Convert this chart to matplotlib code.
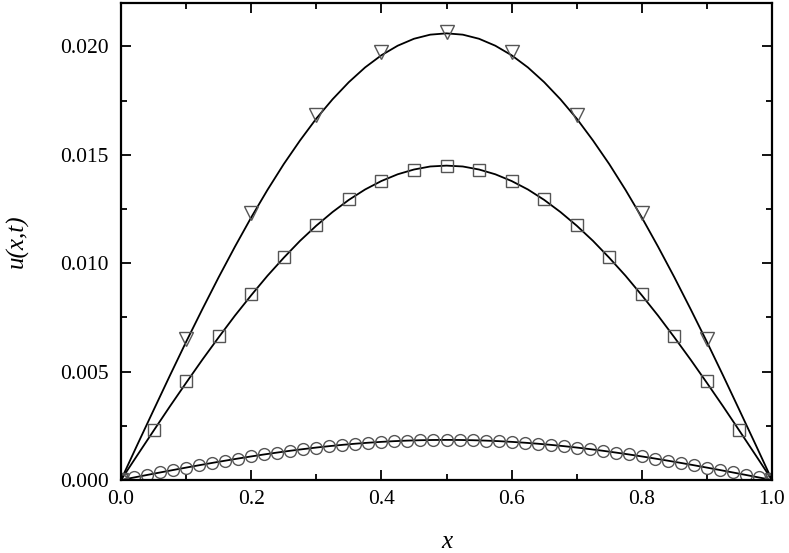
import matplotlib
matplotlib.use('Agg')
import matplotlib.pyplot as plt
from matplotlib.ticker import MultipleLocator

#########################################################

# smooth curves (read every 0.025 in x)
X_LINE = [0.000, 0.025, 0.050, 0.075, 0.100, 0.125, 0.150, 0.175, 0.200, 0.225,
          0.250, 0.275, 0.300, 0.325, 0.350, 0.375, 0.400, 0.425, 0.450, 0.475,
          0.500, 0.525, 0.550, 0.575, 0.600, 0.625, 0.650, 0.675, 0.700, 0.725,
          0.750, 0.775, 0.800, 0.825, 0.850, 0.875, 0.900, 0.925, 0.950, 0.975, 1.000]

U_TRI_LINE = [0.0, 0.00162, 0.00322, 0.00481, 0.00637, 0.00788, 0.00935, 0.01076,
              0.01211, 0.01338, 0.01457, 0.01566, 0.01667, 0.01756, 0.01835, 0.01903,
              0.01959, 0.02003, 0.02035, 0.02054, 0.02060, 0.02054, 0.02035, 0.02003,
              0.01959, 0.01903, 0.01835, 0.01756, 0.01667, 0.01566, 0.01457, 0.01338,
              0.01211, 0.01076, 0.00935, 0.00788, 0.00637, 0.00481, 0.00322, 0.00162, 0.0]

U_SQ_LINE = [0.0, 0.00114, 0.00227, 0.00339, 0.00448, 0.00555, 0.00658, 0.00758,
             0.00852, 0.00942, 0.01025, 0.01103, 0.01173, 0.01236, 0.01292, 0.01340,
             0.01379, 0.01410, 0.01432, 0.01446, 0.01450, 0.01446, 0.01432, 0.01410,
             0.01379, 0.01340, 0.01292, 0.01236, 0.01173, 0.01103, 0.01025, 0.00942,
             0.00852, 0.00758, 0.00658, 0.00555, 0.00448, 0.00339, 0.00227, 0.00114, 0.0]

# markers
X_TRI = [0.0, 0.1, 0.2, 0.3, 0.4, 0.5, 0.6, 0.7, 0.8, 0.9, 1.0]
U_TRI = [0.0, 0.00651, 0.0123, 0.01685, 0.01975, 0.02065,
         0.01975, 0.01685, 0.0123, 0.00651, 0.0]

X_SQ = [0.0, 0.05, 0.10, 0.15, 0.20, 0.25, 0.30, 0.35, 0.40, 0.45, 0.50,
        0.55, 0.60, 0.65, 0.70, 0.75, 0.80, 0.85, 0.90, 0.95, 1.0]
U_SQ = [0.0, 0.00232, 0.00455, 0.00665, 0.00860, 0.01030, 0.01175, 0.01295, 0.01380, 0.01432, 0.01448,
        0.01432, 0.01380, 0.01295, 0.01175, 0.01030, 0.00860, 0.00665, 0.00455, 0.00232, 0.0]

X_CIR = [0.00, 0.02, 0.04, 0.06, 0.08, 0.10, 0.12, 0.14, 0.16, 0.18, 0.20,
         0.22, 0.24, 0.26, 0.28, 0.30, 0.32, 0.34, 0.36, 0.38, 0.40,
         0.42, 0.44, 0.46, 0.48, 0.50, 0.52, 0.54, 0.56, 0.58, 0.60,
         0.62, 0.64, 0.66, 0.68, 0.70, 0.72, 0.74, 0.76, 0.78, 0.80,
         0.82, 0.84, 0.86, 0.88, 0.90, 0.92, 0.94, 0.96, 0.98, 1.00]
U_CIR = [0.0, 0.000116, 0.000232, 0.000347, 0.000460, 0.000572, 0.000681, 0.000788,
         0.000891, 0.000991, 0.001087, 0.001179, 0.001266, 0.001349, 0.001425, 0.001497,
         0.001562, 0.001621, 0.001674, 0.001720, 0.001759, 0.001792, 0.001817, 0.001835,
         0.001846, 0.001850, 0.001846, 0.001835, 0.001817, 0.001792, 0.001759, 0.001720,
         0.001674, 0.001621, 0.001562, 0.001497, 0.001425, 0.001349, 0.001266, 0.001179,
         0.001087, 0.000991, 0.000891, 0.000788, 0.000681, 0.000572, 0.000460, 0.000347,
         0.000232, 0.000116, 0.0]

#########################################################

plt.rcParams['font.family'] = ['Liberation Serif', 'DejaVu Serif']

fig = plt.figure(figsize=(7.89, 5.53), dpi=100)
ax = fig.add_axes([121 / 789, 1 - 480 / 553, (772 - 121) / 789, (480 - 3) / 553])

MK = dict(linestyle='none', markerfacecolor='none', markeredgecolor='#555555',
          markeredgewidth=1.0)

ax.plot(X_LINE, U_TRI_LINE, color='black', lw=1.3)
ax.plot(X_LINE, U_SQ_LINE, color='black', lw=1.3)
ax.plot(X_CIR, U_CIR, color='black', lw=1.3)

ax.plot(X_TRI, U_TRI, marker='v', markersize=10, **MK)
ax.plot(X_SQ, U_SQ, marker='s', markersize=8, **MK)
ax.plot(X_CIR, U_CIR, marker='o', markersize=8.5, **MK)

ax.set_xlim(0, 1)
ax.set_ylim(0, 0.022)

ax.xaxis.set_major_locator(MultipleLocator(0.2))
ax.xaxis.set_minor_locator(MultipleLocator(0.1))
ax.yaxis.set_major_locator(MultipleLocator(0.005))
ax.yaxis.set_minor_locator(MultipleLocator(0.0025))
ax.set_xticklabels([f'{v:.1f}' for v in ax.get_xticks()])
ax.set_yticklabels([f'{v:.3f}' for v in ax.get_yticks()])

ax.tick_params(which='both', direction='in', top=True, right=True,
               labelsize=15.5, width=1.3)
ax.tick_params(which='major', length=7)
ax.tick_params(axis='x', pad=7)
ax.tick_params(axis='y', pad=9)
ax.tick_params(which='minor', length=4)
for s in ax.spines.values():
    s.set_linewidth(1.6)

ax.set_xlabel('x', fontsize=18, fontstyle='italic', labelpad=16)
ax.set_ylabel('u(x,t)', fontsize=18, fontstyle='italic', labelpad=22)

fig.savefig('out.png', dpi=100)
